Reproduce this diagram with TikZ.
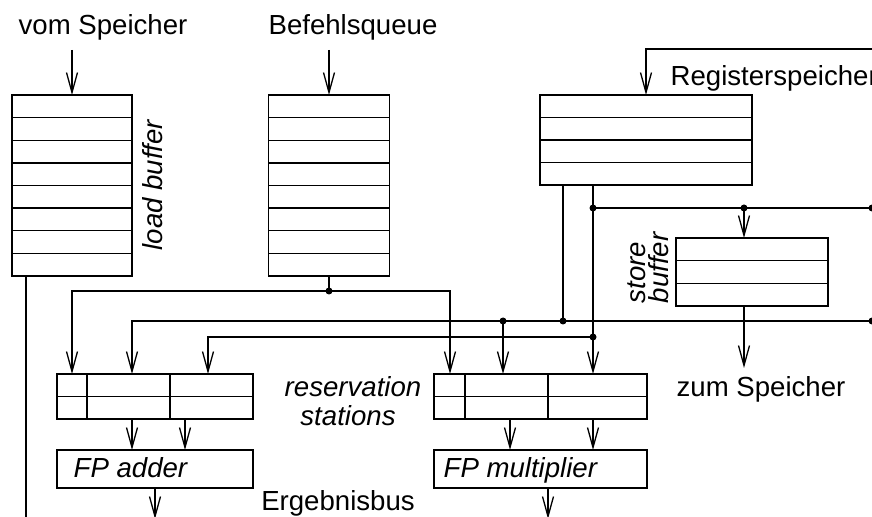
\documentclass[tikz,border=0pt]{standalone}
\usepackage{fontspec}
\setmainfont{Liberation Sans}
\usetikzlibrary{arrows.meta,calc}
\begin{document}
\begin{tikzpicture}[x=0.5pt,y=-0.5pt,line width=0.65pt,
  arr/.style={-{Straight Barb[length=10pt,width=5.5pt]}},
  box/.style={draw,rectangle,inner sep=0pt,outer sep=0pt},
  lbl/.style={font=\fontsize{13.8}{16}\selectfont,inner sep=0pt},
  ilbl/.style={font=\fontsize{13.8}{16}\selectfont\itshape,inner sep=0pt},
  dot/.style={circle,fill,inner sep=0pt,minimum size=3.5pt}]
\useasboundingbox (0,0) rectangle (872,517);

% boxes
\node[box,minimum width=60pt,minimum height=90.5pt] (lb) at (72,185.5) {};
\node[box,minimum width=60.5pt,minimum height=90.5pt] (bq) at (329,185.5) {};
\node[box,minimum width=106pt,minimum height=45pt] (rs) at (646,140) {};
\node[box,minimum width=76pt,minimum height=34pt] (sb) at (752,272) {};
\node[box,minimum width=98pt,minimum height=22.5pt] (ars) at (155,396.5) {};
\node[box,minimum width=106.5pt,minimum height=22.5pt] (mrs) at (540.5,396.5) {};
\node[box,minimum width=98pt,minimum height=19pt] (add) at (155,469) {};
\node[box,minimum width=106.5pt,minimum height=19pt] (mul) at (540.5,469) {};

% rows
\foreach \i in {1,...,7} {
  \draw ($(lb.north west)!\i/8!(lb.south west)$) -- ($(lb.north east)!\i/8!(lb.south east)$);
  \draw ($(bq.north west)!\i/8!(bq.south west)$) -- ($(bq.north east)!\i/8!(bq.south east)$);
}
\foreach \i in {1,...,3}
  \draw ($(rs.north west)!\i/4!(rs.south west)$) -- ($(rs.north east)!\i/4!(rs.south east)$);
\foreach \i in {1,2}
  \draw ($(sb.north west)!\i/3!(sb.south west)$) -- ($(sb.north east)!\i/3!(sb.south east)$);
\draw (ars.west) -- (ars.east);
\draw (mrs.west) -- (mrs.east);
\foreach \d in {30,113}
  \draw ($(ars.north west)+(\d,0)$) -- ($(ars.south west)+(\d,0)$);
\foreach \d in {31,114}
  \draw ($(mrs.north west)+(\d,0)$) -- ($(mrs.south west)+(\d,0)$);

% labels
\node[lbl,anchor=base] (tvom) at (103,35) {vom Speicher};
\node[lbl,anchor=base] (tbef) at (353,35) {Befehlsqueue};
\node[lbl,anchor=base west] (treg) at (670,86) {Registerspeicher};
\node[ilbl,rotate=90] (tload) at (153,185) {load buffer};
\node[ilbl,rotate=90,align=left,font=\fontsize{13.8}{11.5}\selectfont\itshape] (tstore) at (648.5,268) {store\\buffer};
\node[ilbl,anchor=base] (tres1) at (353,397) {reservation};
\node[ilbl,anchor=base] (tres2) at (348,426) {stations};
\node[ilbl,anchor=base west] (tadd) at (73,478) {FP adder};
\node[ilbl,anchor=base west] (tmul) at (443,478) {FP multiplier};
\node[lbl,anchor=base] (terg) at (338,510) {Ergebnisbus};
\node[lbl,anchor=base] (tzum) at (761,397) {zum Speicher};

% coordinates
\coordinate (inL) at (72,50);
\coordinate (inB) at (329,50);
\coordinate (fbR) at (874,49);
\coordinate (lbo) at (26,520);
\coordinate (j1) at (329,291);
\coordinate (a1) at (72,291);
\coordinate (m1) at (450,291);
\coordinate (a2) at (132,321);
\coordinate (m2) at (503,321);
\coordinate (r2) at (563,321);
\coordinate (e2) at (872,321);
\coordinate (a3) at (208,337);
\coordinate (m3) at (593,337);
\coordinate (s3) at (593,208);
\coordinate (sb3) at (744,208);
\coordinate (e3) at (872,208);
\coordinate (zs) at (744,368);
\coordinate (aB) at (185,419);
\coordinate (mA) at (510,419);
\coordinate (ao) at (155,519);
\coordinate (mo) at (548,519);

% connectors
\draw[arr] (inL) -- (lb.north);
\draw[arr] (inB) -- (bq.north);
\draw[arr] (fbR) -- (fbR -| rs.north) -- (rs.north);
\draw (lb.south -| lbo) -- (lbo);
\draw (bq.south) -- (j1);
\draw[arr] (j1) -- (a1) -- (a1 |- ars.north);
\draw[arr] (j1) -- (m1) -- (m1 |- mrs.north);
\draw[arr] (e2) -- (a2) -- (a2 |- ars.north);
\draw[arr] (m2) -- (m2 |- mrs.north);
\draw (r2 |- rs.south) -- (r2);
\draw[arr] (s3 |- rs.south) -- (m3 |- mrs.north);
\draw[arr] (m3) -- (a3) -- (a3 |- ars.north);
\draw (s3) -- (e3);
\draw[arr] (sb3) -- (sb3 |- sb.north);
\draw[arr] (sb.south -| zs) -- (zs);
\draw[arr] (ars.south -| a2) -- (add.north -| a2);
\draw[arr] (aB) -- (aB |- add.north);
\draw[arr] (mA) -- (mA |- mul.north);
\draw[arr] (mrs.south -| m3) -- (mul.north -| m3);
\draw[arr] (add.south) -- (ao);
\draw[arr] (mul.south -| mo) -- (mo);

% dots
\foreach \p in {j1,m2,r2,e2,m3,s3,sb3,e3}
  \node[dot] at (\p) {};
\end{tikzpicture}
\end{document}
